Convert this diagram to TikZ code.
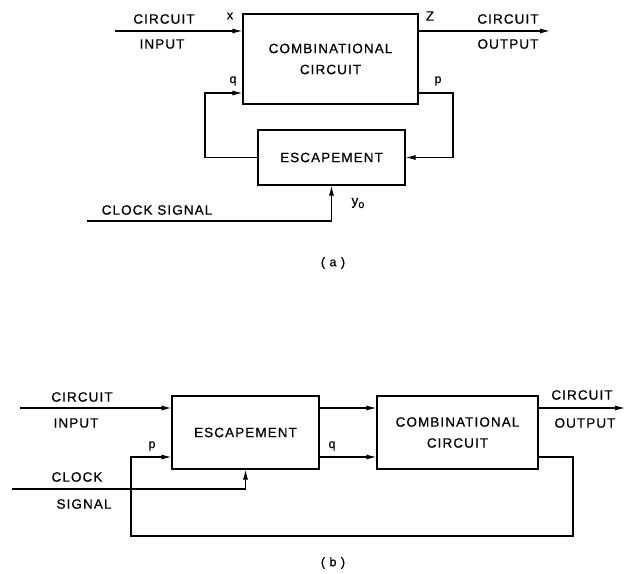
\documentclass[tikz,border=0pt]{standalone}
\usepackage{fontspec}
\setmainfont{Liberation Sans}[LetterSpace=8, FakeBold=0.6]
\usetikzlibrary{arrows.meta}

\begin{document}
\begin{tikzpicture}[
    x=1pt, y=-1pt,
    block/.style={draw, line width=1.1pt, align=center, font=\fontsize{13.5}{21}\selectfont},
    label/.style={font=\fontsize{13.5}{16}\selectfont, inner sep=0pt},
    small/.style={font=\fontsize{12.5}{14}\selectfont, inner sep=0pt},
    wire/.style={draw, line width=1.1pt},
    arr/.style={wire, -{Latex[length=10pt,width=5pt]}}
]
\useasboundingbox (0,0) rectangle (626,573);

% (a) Blocks
\node[block, minimum width=175pt, minimum height=90pt] (combA) at (330.5,59) {COMBINATIONAL\\CIRCUIT};
\node[block, minimum width=147pt, minimum height=55pt] (escA) at (331.5,157.5) {ESCAPEMENT};

% (a) Free ends
\coordinate (inA) at (115,31);
\coordinate (outA) at (550,31);
\coordinate (qA) at (205,93);
\coordinate (pA) at (453,93);
\coordinate (clkA) at (87,221);

% (a) Connections
\draw[arr] (inA) -- (inA -| combA.west);
\draw[arr] (outA -| combA.east) -- (outA);
\draw[arr] (escA.west) -| (qA) -- (qA -| combA.west);
\draw[arr] (pA -| combA.east) -- (pA) |- (escA.east);
\draw[arr] (clkA) -| (escA.south);

% (a) Labels
\node[label] (inA1) at (164,19) {CIRCUIT};
\node[label] (inA2) at (162,44) {INPUT};
\node[small] (xA) at (230,16) {x};
\node[label] (zA) at (430,16) {Z};
\node[label] (outA1) at (508,19) {CIRCUIT};
\node[label] (outA2) at (508,44) {OUTPUT};
\node[small] (qlA) at (233,81) {q};
\node[small] (plA) at (438,81) {p};
\node[label] (clkA1) at (157,210) {CLOCK SIGNAL};
\node[label] (yA) at (358,203) {y\raisebox{-3pt}{\fontsize{11}{12}\selectfont o}};
\node[small] (capA) at (333,263) {( a )};

% (b) Blocks
\node[block, minimum width=147pt, minimum height=73pt] (escB) at (245.5,432.5) {ESCAPEMENT};
\node[block, minimum width=161pt, minimum height=73pt] (combB) at (457.5,432.5) {COMBINATIONAL\\CIRCUIT};

% (b) Free ends
\coordinate (inB) at (20,408);
\coordinate (outB) at (625,408);
\coordinate (pB) at (131,457);
\coordinate (fbB) at (573,536);
\coordinate (clkB) at (12,489);

% (b) Connections
\draw[arr] (inB) -- (inB -| escB.west);
\draw[arr] (escB.east |- inB) -- (combB.west |- inB);
\draw[arr] (combB.east |- inB) -- (outB);
\draw[arr] (escB.east |- pB) -- (combB.west |- pB);
\draw[arr] (combB.east |- pB) -| (fbB) -| (pB) -- (pB -| escB.west);
\draw[arr] (clkB) -| (escB.south);

% (b) Labels
\node[label] (inB1) at (82,397) {CIRCUIT};
\node[label] (inB2) at (76,423) {INPUT};
\node[small] (plB) at (152,446) {p};
\node[small] (qlB) at (332,446) {q};
\node[label] (clkB1) at (77,477) {CLOCK};
\node[label] (clkB2) at (84,504) {SIGNAL};
\node[label] (outB1) at (582,395) {CIRCUIT};
\node[label] (outB2) at (585,423) {OUTPUT};
\node[small] (capB) at (333,563) {( b )};

\end{tikzpicture}
\end{document}
